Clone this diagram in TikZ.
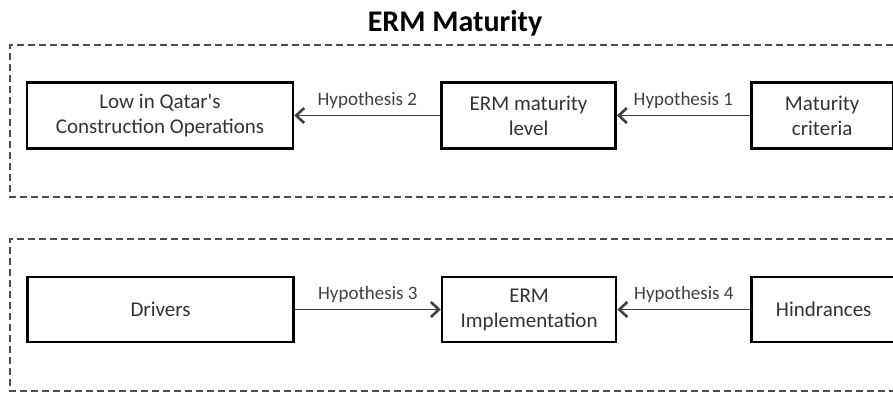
\documentclass[tikz,border=0pt]{standalone}
\usepackage{fontspec}
\setmainfont{Carlito}
\usetikzlibrary{arrows.meta,positioning}
\tikzset{box/.style={draw,line width=1.3pt,align=center,minimum height=33pt,inner sep=2pt,text=black!80,font=\fontsize{10.5}{12.5}\selectfont},arrow/.style={{Straight Barb[length=4pt,width=7.5pt,line width=1.3pt]}-,line width=0.8pt,draw=black!75},hyp/.style={font=\fontsize{9.5}{11}\selectfont,text=black!75,inner sep=1pt,above=2pt},frame/.style={dashed,dash pattern=on 3.5pt off 2pt,line width=0.7pt,draw=black!70}}
\begin{document}
\begin{tikzpicture}[x=0.5pt,y=-0.5pt]
\useasboundingbox (0,0) rectangle (893,393);
\node[font=\fontsize{15}{18}\selectfont\bfseries] (title) at (455,23) {ERM Maturity};
% top group
\draw[frame] (893,45) -- (10,45) -- (10,197) -- (893,197);
\node[box,minimum width=133pt] (low) at (160,115.5) {Low in Qatar\textquotesingle s\\Construction Operations};
\node[box,minimum width=87pt,right=73pt of low] (level) {ERM maturity\\level};
\node[box,minimum width=71pt,right=66.5pt of level] (crit) {Maturity\\criteria};
\draw[arrow] (low) -- node[hyp] {Hypothesis 2} (level);
\draw[arrow] (level) -- node[hyp] {Hypothesis 1} (crit);
% bottom group
\draw[frame] (893,239) -- (10,239) -- (10,391) -- (893,391);
\node[box,minimum width=133pt,minimum height=32.5pt] (drv) at (160.5,309.5) {Drivers};
\node[box,minimum width=87pt,minimum height=32.5pt,right=73pt of drv] (impl) {ERM\\Implementation};
\node[box,minimum width=72pt,minimum height=32.5pt,right=66.5pt of impl] (hind) {Hindrances};
\draw[arrow] (impl) -- node[hyp] {Hypothesis 3} (drv);
\draw[arrow] (impl) -- node[hyp] {Hypothesis 4} (hind);
\end{tikzpicture}
\end{document}
